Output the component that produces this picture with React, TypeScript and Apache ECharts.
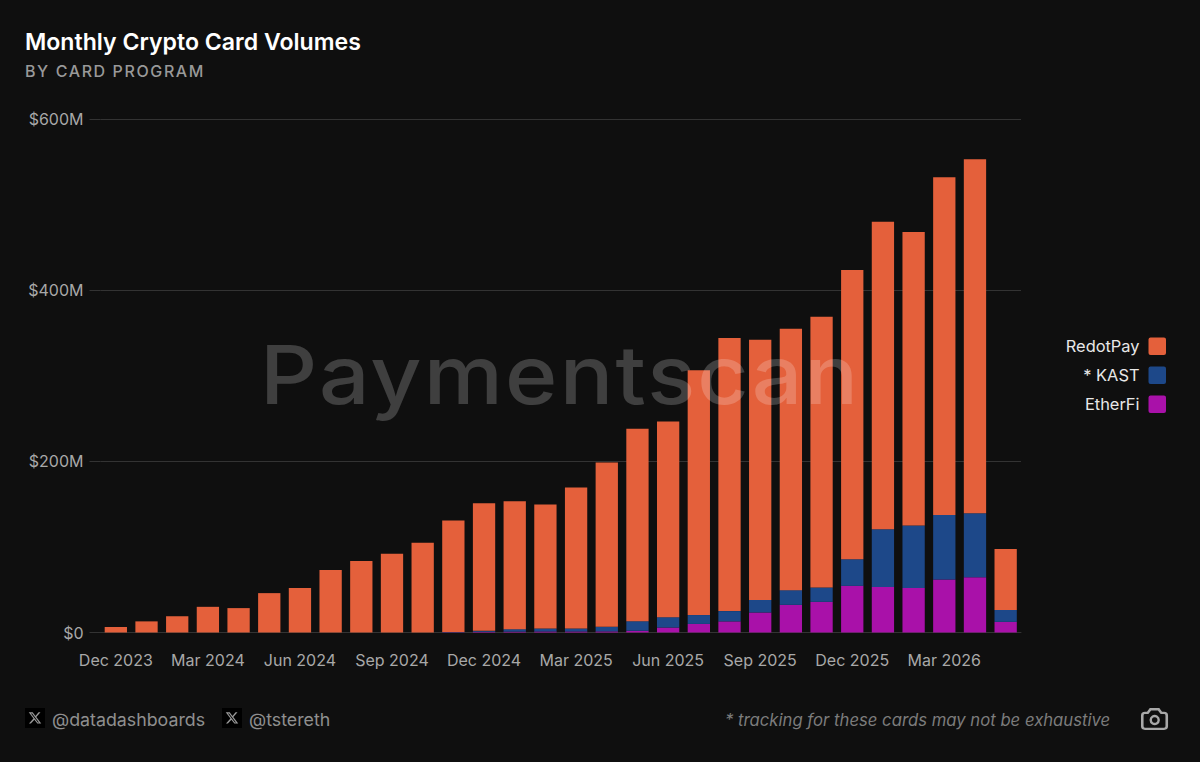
import React, { useEffect, useRef } from "react";
import * as echarts from "echarts";

const months = ["Dec 2023","Jan 2024","Feb 2024","Mar 2024","Apr 2024","May 2024","Jun 2024","Jul 2024","Aug 2024","Sep 2024","Oct 2024","Nov 2024","Dec 2024","Jan 2025","Feb 2025","Mar 2025","Apr 2025","May 2025","Jun 2025","Jul 2025","Aug 2025","Sep 2025","Oct 2025","Nov 2025","Dec 2025","Jan 2026","Feb 2026","Mar 2026","Apr 2026","May 2026"];
const etherFi = [0,0,0,0,0,0,0,0,0,0,0,0.3,0.8,1,1.2,1.2,1.3,2,5.8,10,13,23.4,32.3,35.8,54.5,53.3,52.1,61.9,64.6,12.4];
const kast = [0,0,0,0,0,0,0,0,0,0,0,0.3,1.2,2.9,3.5,3.5,5.3,11.2,12.1,10.4,12,14.6,17.2,16.8,31.1,67.4,72.9,75.5,74.8,14];
const redotPay = [6.4,13,19,30,28.5,46,52,73,83.5,92,105,130.4,149,149.6,144.8,164.8,191.9,224.8,228.6,286.1,319,304,305.5,316.4,337.9,359.3,343,394.6,413.6,71.1];

const FONT = "Inter";
const BG = "#0f0f0f";

const X_PATH = "M18.244 2.25h3.308l-7.227 8.26 8.502 11.24H16.17l-5.214-6.817L4.99 21.75H1.68l7.73-8.835L1.254 2.25H8.08l4.713 6.231zm-1.161 17.52h1.833L7.084 4.126H5.117z";
const CAM_PATH = "M5 7h2l2-3h6l2 3h2a2 2 0 0 1 2 2v9a2 2 0 0 1-2 2H5a2 2 0 0 1-2-2V9a2 2 0 0 1 2-2z";
const SWATCH = "path://M2 0H15A2 2 0 0 1 17 2V15A2 2 0 0 1 15 17H2A2 2 0 0 1 0 15V2A2 2 0 0 1 2 0Z";
echarts.graphic.registerShape("xlogo", echarts.graphic.extendPath(X_PATH, {}) as any);
echarts.graphic.registerShape("camera", echarts.graphic.extendPath(CAM_PATH, {}) as any);

const SPACED: Record<string, string> = { "BY CARD PROGRAM": "1.6px", "Paymentscan": "2px" };

export default function App() {
  const ref = useRef<HTMLDivElement>(null);
  useEffect(() => {
    document.body.style.margin = "0";
    document.body.style.background = BG;
    const chart = echarts.init(ref.current!, undefined, { renderer: "svg", width: 1200, height: 762 });
    const bar = (name: string, data: number[], color: string) => ({
      name, type: "bar" as const, stack: "v", data, barWidth: 22.3,
      itemStyle: { color }, emphasis: { disabled: true },
    });
    chart.setOption({
      animation: false,
      backgroundColor: BG,
      grid: { left: 100.5, right: 179, top: 119, bottom: 129.5 },
      legend: {
        orient: "vertical", align: "right", right: 29, top: 332.5,
        itemWidth: 17.5, itemHeight: 18, itemGap: 11.5, icon: SWATCH,
        data: ["RedotPay", "* KAST", "EtherFi"],
        textStyle: { color: "#e8e8e8", fontFamily: FONT, fontSize: 16.4, padding: [0, 4, 0, 0] },
      },
      xAxis: {
        type: "category", data: months,
        axisLine: { lineStyle: { color: "#333333", width: 1 } },
        axisTick: { show: false },
        axisLabel: { color: "#a8a8a8", fontFamily: FONT, fontSize: 16, interval: 2, margin: 19, hideOverlap: false },
      },
      yAxis: {
        type: "value", min: 0, max: 600, interval: 200,
        axisLine: { show: false },
        axisTick: { show: true, length: 11, lineStyle: { color: "#333333" } },
        splitLine: { lineStyle: { color: "#333333", width: 1 } },
        axisLabel: { color: "#a8a8a8", fontFamily: FONT, fontSize: 16, margin: 17, formatter: (v: number) => (v === 0 ? "$0" : `$${v}M`) },
      },
      series: [bar("EtherFi", etherFi, "#a911a9"), bar("* KAST", kast, "#1d4889"), bar("RedotPay", redotPay, "#e4603b")],
      graphic: [
        { type: "text", z: 100, x: 260, y: 334, scaleX: 1.1, style: { text: "Paymentscan", fill: "rgba(255,255,255,0.2)", fontFamily: "Inter", fontSize: 81, fontWeight: 500 } },
        { type: "text", x: 25, y: 30, style: { text: "Monthly Crypto Card Volumes", fill: "#ffffff", fontFamily: FONT, fontSize: 23.1, fontWeight: 600 } },
        { type: "text", x: 25, y: 63, style: { text: "BY CARD PROGRAM", fill: "#999999", fontFamily: FONT, fontSize: 16, fontWeight: 500 } },
        { type: "rect", shape: { x: 25, y: 708, width: 20, height: 20 }, style: { fill: "#000000" } },
        { type: "xlogo", x: 28, y: 711, scaleX: 0.58, scaleY: 0.58, style: { fill: "#999999" } },
        { type: "text", x: 52, y: 710, style: { text: "@datadashboards", fill: "#8f8f8f", fontFamily: FONT, fontSize: 17.8 } },
        { type: "rect", shape: { x: 222, y: 708, width: 20, height: 20 }, style: { fill: "#000000" } },
        { type: "xlogo", x: 225, y: 711, scaleX: 0.58, scaleY: 0.58, style: { fill: "#999999" } },
        { type: "text", x: 249, y: 710, style: { text: "@tstereth", fill: "#8f8f8f", fontFamily: FONT, fontSize: 17.8 } },
        { type: "text", x: 725, y: 711, style: { text: "* tracking for these cards may not be exhaustive", fill: "#7c7c7c", fontFamily: FONT, fontSize: 16.7, fontStyle: "italic" } },
        { type: "camera", x: 1138.2, y: 704.4, scaleX: 1.36, scaleY: 1.22, style: { fill: "none", stroke: "#a8a8a8", lineWidth: 1.9 } },
        { type: "circle", shape: { cx: 1154.7, cy: 720, r: 4 }, style: { fill: "none", stroke: "#a8a8a8", lineWidth: 2.4 } },
      ],
    });
    const applySpacing = () => {
      ref.current?.querySelectorAll("text").forEach((t) => {
        const s = SPACED[t.textContent || ""];
        if (s) (t as SVGTextElement).style.letterSpacing = s;
      });
    };
    applySpacing();
    chart.on("rendered", applySpacing);
    return () => chart.dispose();
  }, []);
  return <div ref={ref} style={{ position: "absolute", left: 0, top: 0, width: 1200, height: 762 }} />;
}
